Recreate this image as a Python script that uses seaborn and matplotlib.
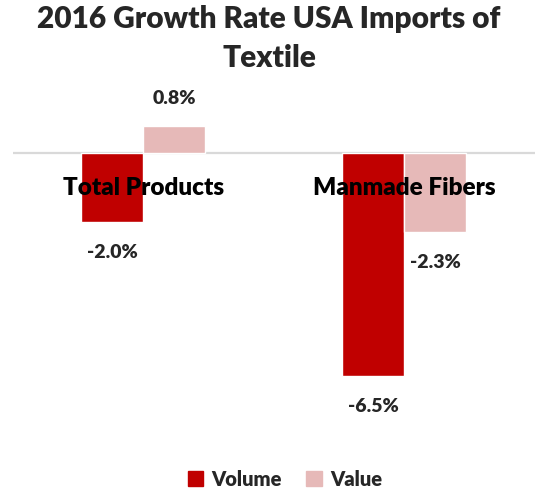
import matplotlib
matplotlib.use("Agg")
import matplotlib.pyplot as plt
import seaborn as sns
import pandas as pd

# data
categories = ["Total Products", "Manmade Fibers"]
volume = [-2.0, -6.5]
value = [0.8, -2.3]
series = ["Volume", "Value"]
colors = ["#C00000", "#E6B9B8"]

sns.set_style("white")
plt.rcParams['font.family'] = ['Lato', 'DejaVu Sans']
W = "heavy"

df = pd.DataFrame({
    "category": categories * 2,
    "series": [series[0]] * len(categories) + [series[1]] * len(categories),
    "growth": volume + value,
})

fig = plt.figure(figsize=(5.38, 4.91), dpi=100)
ax = fig.add_axes([0.024, 0.134, 0.97, 0.693])

sns.barplot(data=df, x="category", y="growth", hue="series", hue_order=series,
            order=categories, palette=colors, width=0.475, saturation=1,
            ax=ax, legend=True)

ax.axhline(0, color="#D9D9D9", linewidth=1.6, zorder=0)
ax.set_xlim(-0.5, 1.5)
ax.set_ylim(-7.95, 2.0)
ax.set_xticks([])
ax.set_yticks([])
ax.set_xlabel("")
ax.set_ylabel("")
for s in ax.spines.values():
    s.set_visible(False)

# category labels sit just under the zero line
for i, c in enumerate(categories):
    ax.text(i, -1.0, c, ha="center", va="center", fontsize=17.5,
            fontweight=W, color="#000000")

# data labels
for cont in ax.containers:
    for bar in cont:
        h = bar.get_height()
        x = bar.get_x() + bar.get_width() / 2
        off = 20 if h >= 0 else -22
        ax.annotate(f"{h:.1f}%", (x, h), xytext=(0, off), textcoords="offset points",
                    ha="center", va="center", fontsize=14, fontweight=W)

ax.legend_.remove()
handles = [plt.Rectangle((0, 0), 1, 1, color=c) for c in colors]
fig.legend(handles, series, loc="center", bbox_to_anchor=(0.53, 0.024), ncol=2,
           frameon=False, prop={"weight": W, "size": 14.5},
           handlelength=0.75, handleheight=0.75, handletextpad=0.45, columnspacing=1.2)

fig.suptitle("2016 Growth Rate USA Imports of\nTextile", y=0.99, fontsize=21.5,
             fontweight=W, linespacing=1.5)

fig.savefig("out.png", dpi=100)
